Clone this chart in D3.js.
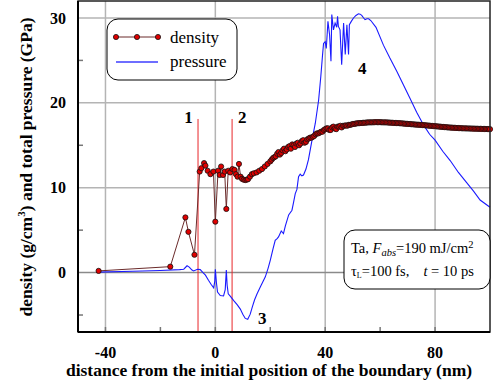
<!DOCTYPE html>
<html>
<head>
<meta charset="utf-8">
<script src="https://cdn.jsdelivr.net/npm/d3@7"></script>
<style>
  body { margin: 0; background: #fff; }
  text { font-family: "Liberation Serif", "Times New Roman", serif; }
</style>
</head>
<body>
<script>
// axis ticks
const xTicks = [-40, 0, 40, 80];
const yTicks = [0, 10, 20, 30];
const xMinor = [-20, 20, 60];
const yMinor = [-5, 5, 15, 25];

// density (g/cm3) vs distance (nm)
const densityX = [-42.5, -16.4, -10.9, -9.8, -7.6, -5.7, -5.1, -4.1, -3.6, -2.8, -1.8, -0.7, 0, 1.0, 1.6, 2.1, 2.8, 3.4, 4.0, 4.7,
  5.4, 6.2, 7.0, 7.5, 8.1, 8.6, 9.2, 9.7, 10.3, 10.9, 11.4, 11.9, 12.6, 13.3,
  14, 15, 16, 17, 18, 19,
  20, 20.5, 21, 21.5, 22, 22.5, 23, 23.5, 24, 24.5,
  25, 25.5, 26, 26.5, 27, 27.5, 28, 28.5, 29, 29.5,
  30, 30.5, 31, 31.5, 32, 32.5, 33, 33.5, 34, 34.5,
  35, 35.5, 36, 36.5, 37, 37.5, 38, 38.5, 39, 39.5,
  40, 40.5, 41, 41.5, 42, 42.5, 43, 43.5, 44, 44.5,
  45, 45.5, 46, 46.5, 47, 47.5, 48, 48.5, 49, 49.5,
  50, 50.5, 51, 51.5, 52, 52.5, 53, 53.5, 54, 54.5,
  55, 55.5, 56, 56.5, 57, 57.5, 58, 58.5, 59, 59.5,
  60, 60.5, 61, 61.5, 62, 62.5, 63, 63.5, 64, 64.5,
  65, 65.5, 66, 66.5, 67, 67.5, 68, 68.5, 69, 69.5,
  70, 70.5, 71, 71.5, 72, 72.5, 73, 73.5, 74, 74.5,
  75, 75.5, 76, 76.5, 77, 77.5, 78, 78.5, 79, 79.5,
  80, 80.5, 81, 81.5, 82, 82.5, 83, 83.5, 84, 84.5,
  85, 85.5, 86, 86.5, 87, 87.5, 88, 88.5, 89, 89.5,
  90, 90.5, 91, 91.5, 92, 92.5, 93, 93.5, 94, 94.5,
  95, 95.5, 96, 96.5, 97, 97.5, 98, 98.5, 99, 99.5,
  100];
const densityY = [0.2, 0.7, 6.5, 4.8, 2.1, 11.9, 12.3, 12.9, 12.6, 12.0, 11.6, 11.9, 6.0, 12.0, 11.5, 12.5, 11.5, 11.9, 7.5, 12.0,
  11.8, 12.2, 12.1, 11.6, 11.3, 12.8, 11.3, 11.05, 10.95, 10.9, 10.95, 11.0, 11.3, 11.6,
  11.7, 11.8, 12.0, 12.2, 12.5, 12.8,
  13.1, 13.3, 13.5, 13.6, 13.7, 14.0, 14.2, 13.9, 14.1, 14.4,
  14.6, 14.3, 14.5, 14.8, 14.9, 14.6, 15.1, 15.0, 14.8, 15.2,
  15.3, 15.0, 15.2, 15.5, 15.6, 15.3, 15.4, 15.7, 15.8, 15.9,
  15.9, 16.0, 16.1, 16.3, 16.4, 16.4, 16.5, 16.6, 16.6, 16.8,
  16.9, 17.0, 17.0, 16.8, 16.8, 17.1, 17.2, 17.0, 16.9, 17.2,
  17.2, 17.3, 17.1, 17.3, 17.3, 17.35, 17.3, 17.4, 17.4, 17.45,
  17.5, 17.52, 17.55, 17.58, 17.6, 17.61, 17.62, 17.64, 17.65, 17.66,
  17.68, 17.69, 17.7, 17.7, 17.7, 17.71, 17.72, 17.72, 17.72, 17.72,
  17.72, 17.71, 17.7, 17.7, 17.7, 17.69, 17.68, 17.67, 17.66, 17.65,
  17.64, 17.63, 17.62, 17.61, 17.6, 17.59, 17.58, 17.56, 17.55, 17.53,
  17.52, 17.51, 17.5, 17.48, 17.47, 17.45, 17.44, 17.43, 17.42, 17.41,
  17.4, 17.38, 17.37, 17.35, 17.34, 17.32, 17.31, 17.29, 17.28, 17.26,
  17.25, 17.23, 17.22, 17.2, 17.19, 17.17, 17.16, 17.14, 17.13, 17.11,
  17.1, 17.09, 17.08, 17.07, 17.06, 17.05, 17.04, 17.03, 17.02, 17.01,
  17.0, 17.0, 16.99, 16.99, 16.98, 16.98, 16.97, 16.97, 16.96, 16.96,
  16.95, 16.95, 16.94, 16.94, 16.93, 16.93, 16.92, 16.92, 16.91, 16.91,
  16.9];

// total pressure (GPa) vs distance (nm)
const pressureX = [-43, -30, -20, -13, -11.5, -10.3, -9.5, -8.5, -7.9, -6.5, -5.5, -4.5, -3.6, -2.5, -1.5, -0.6, -0.2, 0, 0.4, 0.8,
  1.8, 3.0, 3.6, 4.0, 4.3, 4.7, 5.5, 6.7, 8.0, 9.1, 10.0, 10.9, 11.8, 12.7, 13.5, 14.3, 15.2, 16.5, 18.2, 19.2,
  20.0, 21.0, 21.8, 22.5, 23.0, 24.0, 24.8, 25.5, 26.7, 27.9, 28.5, 29.1, 29.7, 30.3, 30.9, 31.5, 32.1, 33.0, 33.9, 35.2,
  36.4, 37.6, 38.4, 39.0, 39.4, 40.0, 40.4, 41.0, 41.6, 42.1, 42.4, 43.0, 43.6, 44.2, 44.5, 44.8, 45.4, 46.0, 46.7, 47.3,
  47.9, 48.5, 48.8, 49.5, 50.3, 51.2, 52.1, 52.7, 53.3, 54.0, 54.5, 55.2, 55.8, 56.6, 58.5, 61.2, 63.5, 66.1, 68.5, 70.9,
  73.3, 75.8, 78.0, 80.0, 82.8, 85.5, 88.5, 91.5, 94.0, 96.4, 100];
const pressureY = [0.05, 0.15, 0.25, 0.35, 0.4, 0.8, 0.65, 0.3, 0.2, 0.4, 0.35, 0.0, -0.3, -0.9, -1.4, -1.8, -1.0, 0.4, -1.2, -2.3,
  -2.7, -2.75, -2.0, 0.3, -1.5, -2.5, -2.8, -3.3, -3.8, -4.3, -4.9, -5.4, -5.5, -4.9, -4.0, -3.2, -2.5, -1.6, -0.5, 0.5,
  1.45, 2.8, 3.8, 4.0, 4.2, 4.9, 4.6, 5.5, 6.8, 7.35, 8.3, 9.3, 9.8, 11.3, 11.6, 11.4, 11.5, 12.2, 13.3, 15.6,
  17.6, 20.3, 23.1, 25.5, 27.0, 27.2, 26.4, 29.6, 28.0, 24.9, 30.4, 28.6, 29.4, 28.9, 30.2, 29.0, 28.6, 24.5, 29.4, 25.7,
  29.2, 25.7, 29.2, 29.6, 30.0, 30.3, 30.5, 30.45, 30.3, 30.0, 29.8, 29.9, 29.9, 29.7, 28.9, 26.8, 25.3, 23.7, 22.1, 20.5,
  18.9, 17.4, 16.3, 15.6, 14.3, 13.2, 11.8, 10.6, 9.6, 8.55, 7.7];

// positions of the melting fronts and the labels on the plot
const frontX = [-6.3, 6.1];
const frontTop = 18.1;
const markText = ["1", "2", "3", "4"];
const markX = [-9.8, 9.8, 17.1, 53.5];
const markY = [18.3, 18.3, -5.4, 24.1];

const W = 496, H = 387;
const svg = d3.select('body').append('svg')
  .attr('width', W).attr('height', H);

const x = d3.scaleLinear([-50, 100], [78, 490]);
const y = d3.scaleLinear([-7, 32], [332, 1]);

// grid
svg.append('g').selectAll('line').data(xTicks).enter().append('line')
  .attr('x1', d => x(d)).attr('x2', d => x(d))
  .attr('y1', y(-7)).attr('y2', y(32))
  .attr('stroke', '#b4b4b4').attr('stroke-width', 1.5);
svg.append('g').selectAll('line').data(yTicks).enter().append('line')
  .attr('x1', x(-50)).attr('x2', x(100))
  .attr('y1', d => y(d)).attr('y2', d => y(d))
  .attr('stroke', d => d === 0 ? '#8a8a8a' : '#b4b4b4').attr('stroke-width', 1.5);

// minor ticks
svg.append('g').selectAll('line').data(yMinor).enter().append('line')
  .attr('x1', x(-50)).attr('x2', x(-50) + 5)
  .attr('y1', d => y(d)).attr('y2', d => y(d))
  .attr('stroke', '#777').attr('stroke-width', 1.5);
svg.append('g').selectAll('line').data(xMinor.concat(xTicks)).enter().append('line')
  .attr('x1', d => x(d)).attr('x2', d => x(d))
  .attr('y1', y(-7)).attr('y2', y(-7) - 5)
  .attr('stroke', '#777').attr('stroke-width', 1.5);

// melting fronts
svg.append('g').selectAll('line').data(frontX).enter().append('line')
  .attr('x1', d => x(d)).attr('x2', d => x(d))
  .attr('y1', y(frontTop)).attr('y2', y(-7))
  .attr('stroke', '#e8262a').attr('stroke-width', 1);

// pressure curve
const pressure = pressureX.map((v, i) => [v, pressureY[i]]);
svg.append('path')
  .datum(pressure)
  .attr('d', d3.line().x(d => x(d[0])).y(d => y(d[1])))
  .attr('fill', 'none').attr('stroke', '#1a1aff').attr('stroke-width', 1.1);

// density curve
const density = densityX.map((v, i) => [v, densityY[i]]);
svg.append('path')
  .datum(density)
  .attr('d', d3.line().x(d => x(d[0])).y(d => y(d[1])))
  .attr('fill', 'none').attr('stroke', '#6b2b2b').attr('stroke-width', 1);
svg.append('g').selectAll('circle').data(density).enter().append('circle')
  .attr('cx', d => x(d[0])).attr('cy', d => y(d[1])).attr('r', 2.6)
  .attr('fill', '#e00000').attr('stroke', '#111').attr('stroke-width', 0.8);

// frame
svg.append('rect')
  .attr('x', x(-50)).attr('y', y(32))
  .attr('width', x(100) - x(-50)).attr('height', y(-7) - y(32))
  .attr('fill', 'none').attr('stroke', '#222').attr('stroke-width', 1.5);
svg.append('line')
  .attr('x1', x(-50)).attr('x2', x(-50)).attr('y1', y(32)).attr('y2', y(-7))
  .attr('stroke', '#000').attr('stroke-width', 2);
svg.append('line')
  .attr('x1', x(-50)).attr('x2', x(100)).attr('y1', y(-7)).attr('y2', y(-7))
  .attr('stroke', '#000').attr('stroke-width', 2);

// tick labels
svg.append('g').selectAll('text').data(yTicks).enter().append('text')
  .attr('x', 66).attr('y', d => y(d)).attr('dy', '0.35em')
  .attr('text-anchor', 'end').attr('font-weight', 'bold').attr('font-size', 16)
  .text(d => d);
svg.append('g').selectAll('text').data(xTicks).enter().append('text')
  .attr('x', d => x(d)).attr('y', 358)
  .attr('text-anchor', 'middle').attr('font-weight', 'bold').attr('font-size', 16)
  .text(d => d);

// axis titles
svg.append('text')
  .attr('x', 269).attr('y', 376)
  .attr('text-anchor', 'middle').attr('font-weight', 'bold').attr('font-size', 17.5)
  .text('distance from the initial position of the boundary (nm)');
const yt = svg.append('text')
  .attr('transform', 'translate(32,167) rotate(-90)')
  .attr('text-anchor', 'middle').attr('font-weight', 'bold').attr('font-size', 17.5);
yt.append('tspan').text('density (g/cm');
yt.append('tspan').attr('font-size', 11).attr('dy', -7).text('3');
yt.append('tspan').attr('dy', 7).text(') and total pressure (GPa)');

// curve labels
svg.append('g').selectAll('text').data(markText).enter().append('text')
  .attr('x', (d, i) => x(markX[i])).attr('y', (d, i) => y(markY[i])).attr('dy', '0.35em')
  .attr('text-anchor', 'middle').attr('font-weight', 'bold').attr('font-size', 17)
  .text(d => d);

// legend
svg.append('rect')
  .attr('x', 107).attr('y', 19).attr('width', 130).attr('height', 61).attr('rx', 11)
  .attr('fill', '#fff').attr('stroke', '#000').attr('stroke-width', 1);
svg.append('line').attr('x1', 116).attr('x2', 158).attr('y1', 37).attr('y2', 37)
  .attr('stroke', '#6b2b2b').attr('stroke-width', 1);
svg.append('g').selectAll('circle').data([116, 137, 158]).enter().append('circle')
  .attr('cx', d => d).attr('cy', 37).attr('r', 2.6)
  .attr('fill', '#e00000').attr('stroke', '#111').attr('stroke-width', 0.8);
svg.append('line').attr('x1', 116).attr('x2', 158).attr('y1', 62).attr('y2', 62)
  .attr('stroke', '#6e6eff').attr('stroke-width', 2);
svg.append('text').attr('x', 170).attr('y', 43).attr('font-size', 17).text('density');
svg.append('text').attr('x', 170).attr('y', 67).attr('font-size', 17).text('pressure');

// parameter box
svg.append('rect')
  .attr('x', 344).attr('y', 230).attr('width', 146).attr('height', 59).attr('rx', 11)
  .attr('fill', '#fff').attr('stroke', '#000').attr('stroke-width', 1);
const t1 = svg.append('text').attr('x', 351).attr('y', 253).attr('font-size', 14.5);
t1.append('tspan').text('Ta, ');
t1.append('tspan').attr('font-style', 'italic').text('F');
t1.append('tspan').attr('font-style', 'italic').attr('font-size', 10.5).attr('dy', 3).text('abs');
t1.append('tspan').attr('dy', -3).text('=190 mJ/cm');
t1.append('tspan').attr('font-size', 10.5).attr('dy', -5).text('2');
const t2 = svg.append('text').attr('x', 351).attr('y', 276).attr('font-size', 14.5);
t2.append('tspan').text('τ');
t2.append('tspan').attr('font-size', 8).attr('dy', 2).text('L');
t2.append('tspan').attr('dy', -2).text('=100 fs,');
t2.append('tspan').attr('dx', 14).attr('font-style', 'italic').text('t');
t2.append('tspan').text(' = 10 ps');
</script>
</body>
</html>
